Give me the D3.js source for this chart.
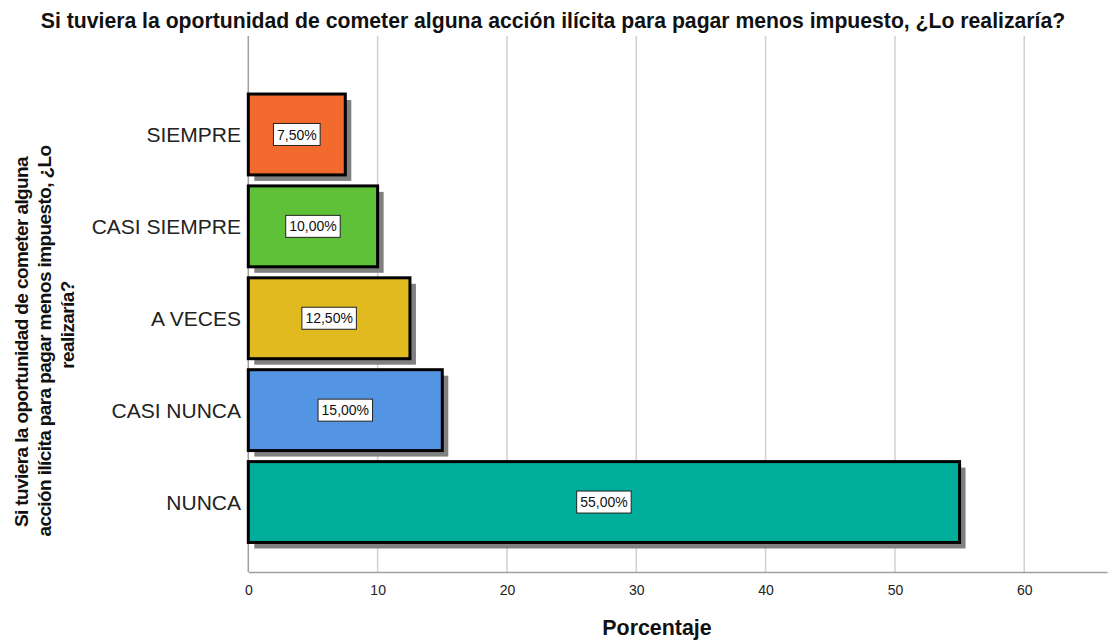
<!DOCTYPE html>
<html>
<head>
<meta charset="utf-8">
<script src="https://cdn.jsdelivr.net/npm/d3@7"></script>
<style>
  html, body { margin: 0; padding: 0; background: #fff; }
  svg { display: block; font-family: "Liberation Sans", Arial, sans-serif; }
</style>
</head>
<body>
<svg id="chart" width="1109" height="644"></svg>
<script>
// Response categories, top to bottom
const categories = ["SIEMPRE", "CASI SIEMPRE", "A VECES", "CASI NUNCA", "NUNCA"];
// Percentage of respondents per category
const percentages = [7.5, 10.0, 12.5, 15.0, 55.0];
// Bar fill per category
const barColors = ["#F26A2D", "#5FC137", "#E0BA1F", "#5395E2", "#00AE9B"];
// Horizontal axis ticks
const xTicks = [0, 10, 20, 30, 40, 50, 60];

const titleText = "Si tuviera la oportunidad de cometer alguna acción ilícita para pagar menos impuesto, ¿Lo realizaría?";
const yTitleLines = [
  "Si tuviera la oportunidad de cometer alguna",
  "acción ilícita para pagar menos impuesto, ¿Lo",
  "realizaría?"
];
const xTitle = "Porcentaje";

const svg = d3.select("#chart");

const plot = { left: 248.3, right: 1107, top: 36, bottom: 572 };

const x = d3.scaleLinear().domain([0, 66.4]).range([plot.left, plot.right]);
const y = d3.scaleBand().domain(categories).range([83, 553.5]).padding(0.12);

const fmt = v => d3.format(".2f")(v).replace(".", ",") + "%";

// Vertical grid lines
svg.append("g")
  .selectAll("line")
  .data(xTicks.filter(t => t > 0))
  .join("line")
  .attr("x1", d => x(d)).attr("x2", d => x(d))
  .attr("y1", plot.top).attr("y2", plot.bottom)
  .attr("stroke", "#d0d0d0")
  .attr("stroke-width", 1.5);

// Left axis line
svg.append("line")
  .attr("x1", plot.left).attr("x2", plot.left)
  .attr("y1", plot.top).attr("y2", plot.bottom)
  .attr("stroke", "#a0a0a0").attr("stroke-width", 1.5);

// Bottom axis
const xAxis = d3.axisBottom(x).tickValues(xTicks).tickSize(0).tickPadding(13).tickFormat(d3.format("d"));
const gx = svg.append("g").attr("transform", `translate(0,${plot.bottom})`).call(xAxis);
gx.select(".domain").attr("stroke", "#a0a0a0").attr("stroke-width", 1.5);
gx.selectAll("text")
  .attr("font-family", "Liberation Sans, Arial, sans-serif")
  .attr("font-size", 14)
  .attr("fill", "#222");

const rows = categories.map((c, i) => ({ cat: c, val: percentages[i], color: barColors[i] }));

// Drop shadows
svg.append("g")
  .selectAll("rect")
  .data(rows)
  .join("rect")
  .attr("x", x(0) + 6)
  .attr("y", d => y(d.cat) + 6)
  .attr("width", d => x(d.val) - x(0))
  .attr("height", y.bandwidth())
  .attr("fill", "#808080");

// Bars
svg.append("g")
  .selectAll("rect")
  .data(rows)
  .join("rect")
  .attr("x", x(0))
  .attr("y", d => y(d.cat))
  .attr("width", d => x(d.val) - x(0))
  .attr("height", y.bandwidth())
  .attr("fill", d => d.color)
  .attr("stroke", "#000")
  .attr("stroke-width", 3);

// Value labels in white boxes
const lab = svg.append("g")
  .selectAll("g")
  .data(rows)
  .join("g")
  .attr("transform", d => `translate(${(x(0) + x(d.val)) / 2},${y(d.cat) + y.bandwidth() / 2})`);
lab.append("text")
  .attr("text-anchor", "middle")
  .attr("dy", "0.36em")
  .attr("font-size", 14)
  .attr("fill", "#111")
  .text(d => fmt(d.val));
lab.each(function () {
  const g = d3.select(this);
  const bb = g.select("text").node().getBBox();
  g.insert("rect", "text")
    .attr("x", bb.x - 3.5).attr("y", -11)
    .attr("width", bb.width + 7).attr("height", 22)
    .attr("fill", "#fff")
    .attr("stroke", "#222")
    .attr("stroke-width", 1);
});

// Category labels
svg.append("g")
  .selectAll("text")
  .data(categories)
  .join("text")
  .attr("x", 241)
  .attr("y", d => y(d) + y.bandwidth() / 2)
  .attr("dy", "0.36em")
  .attr("text-anchor", "end")
  .attr("font-size", 21)
  .attr("fill", "#222")
  .text(d => d);

// Chart title
svg.append("text")
  .attr("x", 553).attr("y", 28)
  .attr("text-anchor", "middle")
  .attr("font-size", 21.2)
  .attr("font-weight", "bold")
  .attr("fill", "#111")
  .text(titleText);

// Horizontal axis title
svg.append("text")
  .attr("x", 657).attr("y", 635)
  .attr("text-anchor", "middle")
  .attr("font-size", 21.4)
  .attr("font-weight", "bold")
  .attr("fill", "#111")
  .text(xTitle);

// Vertical axis title (rotated, three lines)
const yt = svg.append("text")
  .attr("transform", "rotate(-90)")
  .attr("text-anchor", "middle")
  .attr("font-size", 19)
  .attr("font-weight", "bold")
  .attr("letter-spacing", -0.6)
  .attr("fill", "#111");
const yTitleCenters = [-342, -341, -325];
yTitleLines.forEach((line, i) => {
  yt.append("tspan")
    .attr("x", yTitleCenters[i])
    .attr("y", 28 + i * 23)
    .text(line);
});
</script>
</body>
</html>
